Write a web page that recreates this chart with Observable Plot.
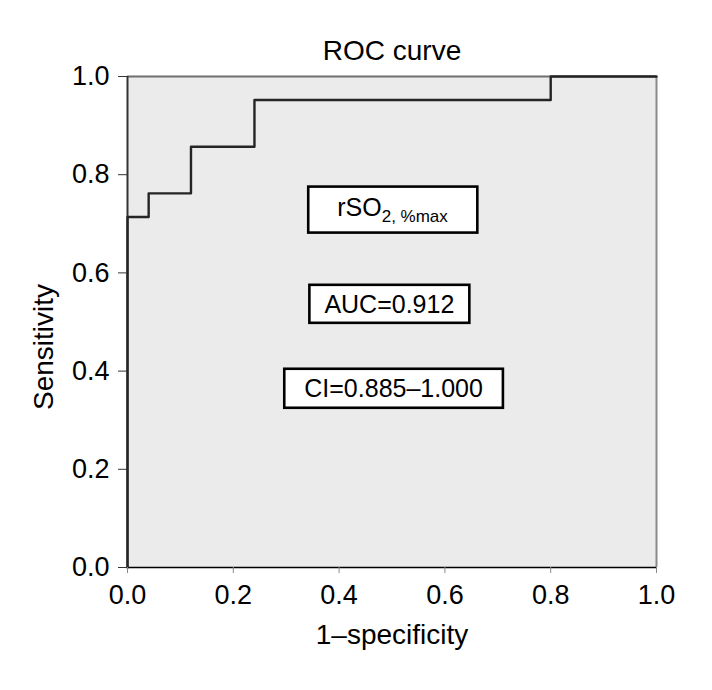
<!DOCTYPE html>
<html><head><meta charset="utf-8">
<script src="https://cdn.jsdelivr.net/npm/d3@7"></script>
<script src="https://cdn.jsdelivr.net/npm/@observablehq/plot@0.6"></script>
<style>body{margin:0;background:#fff} #chart svg{font-family:"Liberation Sans",Arial,sans-serif}</style>
</head><body><div id="chart"></div>
<script>
// ---- data ----
const fpr = [0, 0, 0.04, 0.12, 0.24, 0.80, 1.00];
const tpr = [0, 0.714, 0.762, 0.857, 0.952, 1.00, 1.00];
const xTicks = [0, 0.2, 0.4, 0.6, 0.8, 1.0];
const yTicks = [0, 0.2, 0.4, 0.6, 0.8, 1.0];
const titleText = "ROC curve";
const xLabel = "1–specificity";
const yLabel = "Sensitivity";
const boxLabels = ["rSO2, %max", "AUC=0.912", "CI=0.885–1.000"];
const boxX = [0.501, 0.495, 0.503];
const boxY = [0.732, 0.535, 0.363];

// ---- styles ----
const boxPad = [[29, 6.5], [15, 5], [20, 5.5]];

const roc = fpr.map((x, i) => ({x, y: tpr[i]}));
const boxes = boxLabels.map((label, i) => ({label, x: boxX[i], y: boxY[i]}));
const fmt = d3.format(".1f");

const plot = Plot.plot({
  width: 712, height: 690,
  marginLeft: 127, marginRight: 56, marginTop: 76, marginBottom: 123,
  style: {fontFamily: "Liberation Sans, Arial, sans-serif", fontSize: "27px", color: "#000", background: "#fff"},
  x: {domain: [0, 1]},
  y: {domain: [0, 1]},
  marks: [
    Plot.frame({fill: "#ebebeb", stroke: null}),
    Plot.ruleY([1], {stroke: "#6f6f6f", strokeWidth: 2}),
    Plot.ruleX([1], {stroke: "#8a8a8a", strokeWidth: 2}),
    Plot.ruleX([0], {stroke: "#333", strokeWidth: 2}),
    Plot.ruleY([0], {stroke: "#000", strokeWidth: 1.5}),
    Plot.line(roc, {x: "x", y: "y", curve: "step-after", stroke: "#252525", strokeWidth: 2.4}),
    Plot.axisX({ticks: xTicks, tickFormat: fmt, tickSize: 6, tickPadding: 11, label: null, fontSize: 27, stroke: "#888", fill: "#000"}),
    Plot.axisY({ticks: yTicks, tickFormat: fmt, tickSize: 9, tickPadding: 9, label: null, fontSize: 27, stroke: "#333", fill: "#000"}),
    Plot.text([titleText], {frameAnchor: "top", lineAnchor: "middle", dy: -25, fontSize: 28, fill: "#000"}),
    Plot.text([xLabel], {frameAnchor: "bottom", lineAnchor: "middle", dy: 68, fontSize: 28, fill: "#000"}),
    Plot.text([yLabel], {frameAnchor: "left", textAnchor: "middle", lineAnchor: "middle", rotate: -90, dx: -83, dy: 25, fontSize: 28, fill: "#000"}),
    Plot.text(boxes, {x: "x", y: "y", text: "label", fontSize: 25, fill: "#000"})
  ]
});
document.getElementById("chart").append(plot);

// draw white framed boxes behind the annotation labels
const NS = "http://www.w3.org/2000/svg";
plot.querySelectorAll("text").forEach(t => {
  const i = boxLabels.indexOf(t.textContent);
  if (i < 0) return;
  if (i === 0) {
    t.textContent = "rSO";
    const sub = document.createElementNS(NS, "tspan");
    sub.setAttribute("font-size", "17");
    sub.setAttribute("dy", "6");
    sub.textContent = "2, %max";
    t.appendChild(sub);
  }
  const b = t.getBBox();
  const [px, py] = boxPad[i];
  const r = document.createElementNS(NS, "rect");
  r.setAttribute("x", b.x - px);
  r.setAttribute("y", b.y - py);
  r.setAttribute("width", b.width + 2 * px);
  r.setAttribute("height", b.height + 2 * py);
  r.setAttribute("fill", "#fff");
  r.setAttribute("stroke", "#000");
  r.setAttribute("stroke-width", "2.6");
  if (t.getAttribute("transform")) r.setAttribute("transform", t.getAttribute("transform"));
  t.parentNode.insertBefore(r, t);
});
</script>
</body></html>
